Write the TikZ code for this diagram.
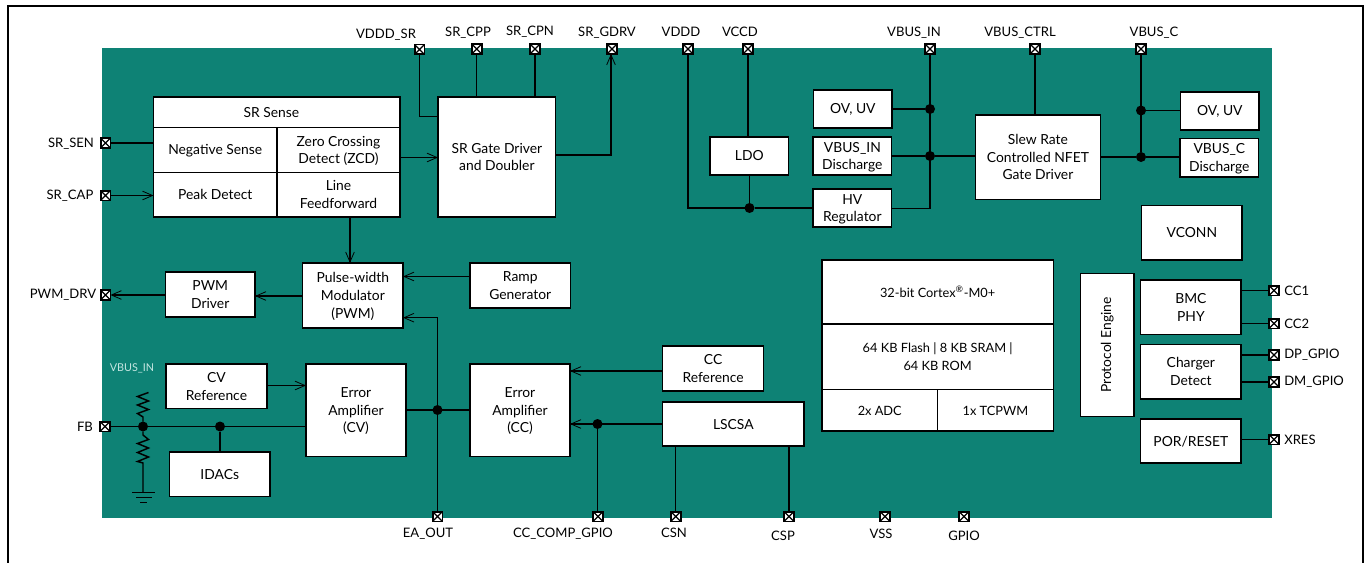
\documentclass[tikz,border=0pt]{standalone}
\usepackage{fontspec}
\setmainfont{Lato}
\usetikzlibrary{arrows.meta}
\definecolor{teal1}{HTML}{0E8275}
\definecolor{vlabel}{HTML}{C4E6E1}
\newcommand\smt{\fontsize{9.6}{13.2}\selectfont}
\tikzset{
 blk/.style={draw=black,fill=white,line width=1.1pt,inner sep=0pt,outer sep=0pt,align=center,font=\fontsize{10.4}{13.2}\selectfont},
 wire/.style={draw=black,line width=1.1pt},
 arr/.style={wire,-{Straight Barb[length=7.5pt,width=6.5pt,line width=.6pt]}},
 pinbox/.style={draw=black,fill=white,line width=1.4pt,minimum size=7.4pt,inner sep=0pt,outer sep=0pt,
   path picture={\draw[line width=.9pt] (path picture bounding box.south west)--(path picture bounding box.north east)
     (path picture bounding box.north west)--(path picture bounding box.south east);}},
 jdot/.style={circle,fill=black,minimum size=7.5pt,inner sep=0pt,outer sep=0pt},
 lbl/.style={inner sep=0pt,font=\fontsize{9.8}{12}\selectfont},
}
\newcommand\bx[6]{%
 \pgfmathsetmacro\cxa{(#2+#4)/2}\pgfmathsetmacro\cya{(#3+#5)/2}%
 \pgfmathsetmacro\wa{(#4-#2)*0.75}\pgfmathsetmacro\ha{(#5-#3)*0.75}%
 \node[blk,minimum width=\wa pt,minimum height=\ha pt] (#1) at (\cxa,\cya) {\rule{0pt}{10.5pt}#6\rule[-3pt]{0pt}{3pt}};}
\newcommand\pn[3]{\node[pinbox] (#1) at (#2,#3) {};}
\begin{document}
\begin{tikzpicture}[x=0.75pt,y=-0.75pt]
\useasboundingbox (0,0) rectangle (1369,563);
\fill[white] (0,0) rectangle (1369,563);
\draw[line width=1.6pt] (8,563)--(8,6)--(1363,6)--(1363,563);
\fill[teal1] (102,48) rectangle (1271.5,518);

% blocks
\bx{srs}{153.5}{97}{400}{127.5}{\hspace*{-8pt}SR Sense}
\bx{neg}{153.5}{127.5}{277}{172.5}{Negative Sense}
\bx{zcd}{277}{127.5}{400}{172.5}{Zero Crossing\\Detect (ZCD)}
\bx{peak}{153.5}{172.5}{277}{217}{Peak Detect}
\bx{lff}{277}{172.5}{400}{217}{Line\\Feedforward}
\bx{srg}{438}{97}{555.7}{217}{SR Gate Driver\\and Doubler}
\bx{pwd}{165.5}{272}{255}{317}{PWM\\Driver}
\bx{pwm}{302.7}{263}{403}{328}{Pulse-width\\Modulator\\(PWM)}
\bx{ramp}{470}{263}{570.5}{308}{Ramp\\Generator}
\bx{cvr}{166}{364}{267}{408.5}{CV\\Reference}
\bx{ecv}{306}{364}{406}{456.5}{Error\\Amplifier\\(CV)}
\bx{idac}{169.5}{452}{270}{496.5}{IDACs}
\bx{ecc}{470}{364}{570}{456.5}{Error\\Amplifier\\(CC)}
\bx{ccr}{662.7}{346}{763.5}{391}{CC\\Reference}
\bx{lscsa}{662.7}{402}{804}{446}{LSCSA}
\bx{cpu}{822}{260}{1053.3}{324}{\smt 32-bit Cortex\textsuperscript{®}-M0+}
\bx{mem}{822}{324}{1053.3}{389.5}{\smt 64 KB Flash | 8 KB SRAM |\\\smt 64 KB ROM}
\bx{adc}{822}{389.5}{937.5}{431}{\smt 2x ADC}
\bx{tcp}{937.5}{389.5}{1053.3}{431}{\smt 1x TCPWM}
\bx{ldo}{710}{137}{788.5}{175}{LDO}
\bx{ovi}{813.7}{90}{892}{128}{OV, UV}
\bx{vdis}{813.2}{137}{891.5}{175}{VBUS\_IN\\Discharge}
\bx{hv}{813.2}{189}{891.5}{227}{HV\\Regulator}
\bx{slew}{975.3}{115}{1100.5}{199.5}{Slew Rate\\Controlled NFET\\Gate Driver}
\bx{ovc}{1180.7}{92}{1259}{130}{OV, UV}
\bx{cdis}{1180.2}{138.5}{1258.5}{177}{VBUS\_C\\Discharge}
\bx{vconn}{1141.7}{205.5}{1242}{260}{VCONN}
\bx{bmc}{1140.7}{280}{1241}{334.5}{BMC\\PHY}
\bx{chg}{1140.7}{344.5}{1241}{399}{Charger\\Detect}
\bx{por}{1140.7}{419}{1241}{463}{POR/RESET}
\node[blk,minimum width=143.2*.75pt,minimum height=53.7*.75pt,rotate=90] (pe) at (1107.2,345) {Protocol Engine};

% pins
\pn{psen}{105.5}{143}
\pn{pcap}{105.5}{195.5}
\pn{pdrv}{105.5}{295}
\pn{pfb}{105}{426.5}
\pn{pvsr}{419.5}{49.5}
\pn{pcpp}{476.7}{49}
\pn{pcpn}{535}{49}
\pn{pgdrv}{612}{49}
\pn{pvddd}{688}{49}
\pn{pvccd}{748}{49}
\pn{pvin}{930}{49}
\pn{pctrl}{1035}{49}
\pn{pvc}{1141}{49}
\pn{pea}{437.5}{516.5}
\pn{pcomp}{598}{516.5}
\pn{pcsn}{675.7}{516.5}
\pn{pcsp}{789}{516.5}
\pn{pvss}{885}{516.5}
\pn{pgpio}{964}{516.5}
\pn{pcc1}{1274}{290.5}
\pn{pcc2}{1274}{323.5}
\pn{pdp}{1274}{355}
\pn{pdm}{1274}{382}
\pn{pxres}{1274}{439.5}

% junctions
\node[jdot] (j1) at (749.5,208) {};
\node[jdot] (j2) at (930,109) {};
\node[jdot] (j3) at (930,156) {};
\node[jdot] (j4) at (1141,110.5) {};
\node[jdot] (j5) at (1141,157) {};
\node[jdot] (j6) at (437.5,410) {};
\node[jdot] (j7) at (143,426.5) {};
\node[jdot] (j8) at (220,426.5) {};
\node[jdot] (j9) at (597.5,424) {};

% named free points
\coordinate (zcdout) at (400,157.5);
\coordinate (gdrvbend) at (611,155);
\coordinate (vsrbend) at (419.5,116.5);
\coordinate (hvy) at (930,208.5);
\coordinate (rampy) at (470,276.5);
\coordinate (pwmy) at (302.7,296);
\coordinate (fby) at (306,426.5);
\coordinate (eafb) at (437.5,317.7);
\coordinate (cvy) at (267,385.5);
\coordinate (ccy) at (662.7,371);
\coordinate (lffx) at (350,217);

% connectors
\draw[wire] (psen) -- (psen -| neg.west);
\draw[arr] (pcap) -- (pcap -| peak.west);
\draw[arr] (lffx) -- (lffx |- pwm.north);
\draw[arr] (zcdout) -- (zcdout -| srg.west);
\draw[wire] (pvsr) |- (vsrbend -| srg.west);
\draw[wire] (pcpp) -- (pcpp |- srg.north);
\draw[wire] (pcpn) -- (pcpn |- srg.north);
\draw[arr] (gdrvbend -| srg.east) -- (gdrvbend) -- (gdrvbend |- pgdrv.south);
\draw[wire] (pvddd) |- (j1) -- (j1 -| hv.west);
\draw[wire] (pvccd) -- (pvccd |- ldo.north);
\draw[wire] (j1 |- ldo.south) -- (j1);
\draw[wire] (pvin) -- (hvy) -- (hvy -| hv.east);
\draw[wire] (j2 -| ovi.east) -- (j2);
\draw[wire] (j3 -| vdis.east) -- (j3) -- (j3 -| slew.west);
\draw[wire] (pctrl) -- (pctrl |- slew.north);
\draw[wire] (pvc) -- (j5);
\draw[wire] (j4) -- (j4 -| ovc.west);
\draw[wire] (j5 -| slew.east) -- (j5) -- (j5 -| cdis.west);
\draw[arr] (rampy) -- (rampy -| pwm.east);
\draw[arr] (pwmy) -- (pwmy -| pwd.east);
\draw[arr] (pdrv -| pwd.west) -- (pdrv.east);
\draw[arr] (pea) -- (eafb) -- (eafb -| pwm.east);
\draw[wire] (j6 -| ecv.east) -- (j6 -| ecc.west);
\draw[arr] (cvy) -- (cvy -| ecv.west);
\draw[wire] (pfb) -- (fby);
\draw[wire] (j8) -- (j8 |- idac.north);
\draw[arr] (ccy) -- (ccy -| ecc.east);
\draw[arr] (j9 -| lscsa.west) -- (j9 -| ecc.east);
\draw[wire] (j9) -- (j9 |- pcomp.north);
\draw[wire] (pcsn |- lscsa.south) -- (pcsn);
\draw[wire] (pcsp |- lscsa.south) -- (pcsp);
\draw[wire] (pcc1 -| bmc.east) -- (pcc1);
\draw[wire] (pcc2 -| bmc.east) -- (pcc2);
\draw[wire] (pdp -| chg.east) -- (pdp);
\draw[wire] (pdm -| chg.east) -- (pdm);
\draw[wire] (pxres -| por.east) -- (pxres);

% resistor divider and ground
\draw[wire,line join=miter] (148.5,392.5)--(137.5,396.5)--(148.5,401)--(137.5,405)--(148.5,409.5)--(137.5,413.5)--(143,417)--(j7);
\draw[wire] (j7)--(143,435)--(148.5,439.5)--(137.5,443.5)--(148.5,448)--(137.5,452.5)--(148.5,457)--(137.5,461.5)--(143,463)--(143,492);
\draw[wire] (132,492.5)--(154.7,492.5) (136,497.5)--(151.7,497.5) (140,502.5)--(146.7,502.5);

% labels
\node[lbl] (lsen) at (71,144) {SR\_SEN};
\node[lbl] (lcap) at (70,196) {SR\_CAP};
\node[lbl] (ldrv) at (63,295) {PWM\_DRV};
\node[lbl] (lfb) at (85,427) {FB};
\node[lbl] (lvsr) at (386,35) {VDDD\_SR};
\node[lbl] (lcpp) at (468,33) {SR\_CPP};
\node[lbl] (lcpn) at (530,32) {SR\_CPN};
\node[lbl] (lgdrv) at (607,33) {SR\_GDRV};
\node[lbl] (lvddd) at (681,32) {VDDD};
\node[lbl] (lvccd) at (740,32) {VCCD};
\node[lbl] (lvin) at (914,33) {VBUS\_IN};
\node[lbl] (lctrl) at (1020,33) {VBUS\_CTRL};
\node[lbl] (lvc) at (1154,33) {VBUS\_C};
\node[lbl] (lea) at (428,534) {EA\_OUT};
\node[lbl] (lcomp) at (563,534) {CC\_COMP\_GPIO};
\node[lbl] (lcsn) at (674,533) {CSN};
\node[lbl] (lcsp) at (783,536) {CSP};
\node[lbl] (lvss) at (881,534) {VSS};
\node[lbl] (lgpio) at (964,536) {GPIO};
\node[lbl,anchor=west] (lcc1) at (1284,291) {CC1};
\node[lbl,anchor=west] (lcc2) at (1284,324) {CC2};
\node[lbl,anchor=west] (ldp) at (1284,355) {DP\_GPIO};
\node[lbl,anchor=west] (ldm) at (1284,382) {DM\_GPIO};
\node[lbl,anchor=west] (lxres) at (1284,440) {XRES};
\node[lbl,text=vlabel,font=\fontsize{8.1}{9}\selectfont] (lvb) at (132,368) {VBUS\_IN};
\end{tikzpicture}
\end{document}
